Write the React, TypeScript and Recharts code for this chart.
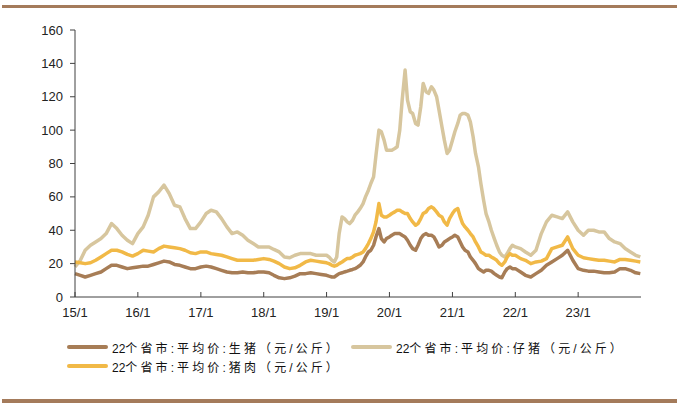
import { CartesianGrid, Line, LineChart, XAxis, YAxis } from 'recharts'

// monthly to 2018, half-monthly 2019-2021, monthly again 2022-2023
const dates = [
  '2015-01-01', '2015-02-01', '2015-03-01', '2015-04-01', '2015-05-01', '2015-06-01',
  '2015-07-01', '2015-08-01', '2015-09-01', '2015-10-01', '2015-11-01', '2015-12-01',
  '2016-01-01', '2016-02-01', '2016-03-01', '2016-04-01', '2016-05-01', '2016-06-01',
  '2016-07-01', '2016-08-01', '2016-09-01', '2016-10-01', '2016-11-01', '2016-12-01',
  '2017-01-01', '2017-02-01', '2017-03-01', '2017-04-01', '2017-05-01', '2017-06-01',
  '2017-07-01', '2017-08-01', '2017-09-01', '2017-10-01', '2017-11-01', '2017-12-01',
  '2018-01-01', '2018-02-01', '2018-03-01', '2018-04-01', '2018-05-01', '2018-06-01',
  '2018-07-01', '2018-08-01', '2018-09-01', '2018-10-01', '2018-11-01', '2018-12-01',
  '2019-01-01', '2019-01-15', '2019-02-01', '2019-02-15', '2019-03-01', '2019-03-15',
  '2019-04-01', '2019-04-15', '2019-05-01', '2019-05-15', '2019-06-01', '2019-06-15',
  '2019-07-01', '2019-07-15', '2019-08-01', '2019-08-15', '2019-09-01', '2019-09-15',
  '2019-10-01', '2019-10-15', '2019-11-01', '2019-11-15', '2019-12-01', '2019-12-15',
  '2020-01-01', '2020-01-15', '2020-02-01', '2020-02-15', '2020-03-01', '2020-03-15',
  '2020-04-01', '2020-04-15', '2020-05-01', '2020-05-15', '2020-06-01', '2020-06-15',
  '2020-07-01', '2020-07-15', '2020-08-01', '2020-08-15', '2020-09-01', '2020-09-15',
  '2020-10-01', '2020-10-15', '2020-11-01', '2020-11-15', '2020-12-01', '2020-12-15',
  '2021-01-01', '2021-01-15', '2021-02-01', '2021-02-15', '2021-03-01', '2021-03-15',
  '2021-04-01', '2021-04-15', '2021-05-01', '2021-05-15', '2021-06-01', '2021-06-15',
  '2021-07-01', '2021-07-15', '2021-08-01', '2021-08-15', '2021-09-01', '2021-09-15',
  '2021-10-01', '2021-10-15', '2021-11-01', '2021-11-15', '2021-12-01', '2021-12-15',
  '2022-01-01', '2022-02-01', '2022-03-01', '2022-04-01', '2022-05-01', '2022-06-01',
  '2022-07-01', '2022-08-01', '2022-09-01', '2022-10-01', '2022-11-01', '2022-12-01',
  '2023-01-01', '2023-02-01', '2023-03-01', '2023-04-01', '2023-05-01', '2023-06-01',
  '2023-07-01', '2023-08-01', '2023-09-01', '2023-10-01', '2023-11-01', '2023-12-01',
  '2023-12-28',
]

// 生猪
const hog = [
  14, 13, 12, 13, 14, 15, 17, 19, 19, 18, 17, 17.5,
  18, 18.5, 18.5, 19.5, 20.5, 21.5, 21, 19.5, 19, 18, 17, 17,
  18, 18.5, 18, 17, 16, 15, 14.5, 14.5, 15, 14.5, 14.5, 15,
  15, 14.5, 13, 11.5, 11, 11.5, 12.5, 14, 14, 14.5, 14, 13.5,
  13, 12.5, 12, 12, 13, 14, 14.5, 15, 15.5, 16, 16.5, 17,
  18, 19, 21, 24, 27, 28, 31, 36, 41, 35, 33, 35,
  36, 37, 38, 38, 38, 37, 36, 34, 31, 29, 28, 31,
  35, 37, 38, 37, 37, 36, 33, 30, 31, 33, 34, 35,
  36, 37, 36, 33, 30, 28, 27, 24, 22, 20, 17, 16,
  15, 16, 16, 15.5, 14, 13, 12, 11.5, 15, 17, 18, 17,
  17, 15, 13, 12, 14, 16, 19, 21, 23, 25, 28, 22,
  17, 16, 15.5, 15.5, 15, 14.5, 14.5, 15, 17, 17, 16, 14.5,
  14,
]

// 仔猪
const piglet = [
  18, 22, 28, 31, 33, 35, 38, 44, 41, 37, 34, 32,
  38, 42, 49, 60, 63, 67, 62, 55, 54, 47, 41, 41,
  45, 50, 52, 51, 47, 42, 38, 39, 37, 34, 32, 30,
  30, 30, 28.5, 27, 24, 23.5, 25, 26, 26, 26, 25, 25,
  25, 24, 22, 21, 24, 38, 48, 47, 45, 44, 46, 49,
  51, 53, 56, 60, 64, 68, 72, 85, 100, 99, 94, 88,
  88, 88, 89, 90, 100, 118, 136, 118, 111, 110, 104, 103,
  114, 128, 123, 122, 126, 124, 120, 112, 102, 94, 86, 88,
  94, 99, 104, 109, 110, 110, 109, 105, 96, 86, 78, 68,
  58, 50, 45, 40, 35, 31, 27, 25, 24, 26, 29, 31,
  30, 29, 27, 25, 28, 38, 45, 49, 48, 47, 51, 45,
  40, 37, 40, 40, 39, 39, 35, 33, 32, 29, 27, 25,
  24,
]

// 猪肉
const pork = [
  21, 20.5, 20, 20.5, 22, 24, 26, 28, 28, 27, 25.5, 24.5,
  26, 28, 27.5, 27, 29, 30.5, 30, 29.5, 29, 28, 26.5, 26,
  27, 27, 26, 25.5, 25, 24, 23, 22, 22, 22, 22, 22.5,
  23, 22.5, 21.5, 20, 18, 17, 17.5, 19, 21, 22, 21.5, 21,
  20.5, 20, 19, 18.5, 19, 20, 21, 22, 23, 23, 24, 25,
  25.5, 26, 27, 29, 32, 35, 39, 45, 56, 49, 48, 48,
  49, 50, 51, 52, 52, 51, 50, 50, 47, 45, 43, 44,
  47, 50, 51, 53, 54, 53, 51, 49, 48, 45, 43, 47,
  50, 52, 53, 48, 44, 42, 40, 38, 36, 33, 30, 27,
  26, 25, 25, 24, 23, 22, 20, 19, 21, 24, 26, 25,
  25, 23, 22, 20, 21, 21.5, 23, 29, 30, 31, 36, 29,
  25, 23.5, 23, 22.5, 22, 22, 21.5, 21, 22.5, 22.5, 22, 21.5,
  21,
]

const yearStarts = [
  '2015-01-01', '2016-01-01', '2017-01-01', '2018-01-01', '2019-01-01',
  '2020-01-01', '2021-01-01', '2022-01-01', '2023-01-01',
]
const yearLabels = ['15/1', '16/1', '17/1', '18/1', '19/1', '20/1', '21/1', '22/1', '23/1']
const yTicks = [0, 20, 40, 60, 80, 100, 120, 140, 160]

const series = [
  { key: 'hog', name: '22个省市:平均价:生猪（元/公斤）', color: '#A77D56' },
  { key: 'piglet', name: '22个省市:平均价:仔猪（元/公斤）', color: '#D7C69E' },
  { key: 'pork', name: '22个省市:平均价:猪肉（元/公斤）', color: '#F1B947' },
]

const rows = dates.map((d, i) => ({
  t: Date.parse(d),
  hog: hog[i],
  piglet: piglet[i],
  pork: pork[i],
}))

const tickTimes = yearStarts.map((d) => Date.parse(d))
const labelOf = (v: number) => yearLabels[tickTimes.indexOf(v)] ?? ''

const font = '"Liberation Sans", Arial, "Noto Sans CJK SC", sans-serif'
const tickStyle = { fontSize: 13, fill: '#222', fontFamily: font }

function LegendItem({ x, y, color, text }: { x: number; y: number; color: string; text: string }) {
  // the leading "22" sits tight, the chinese part is spaced out
  const lead = text.slice(0, 2)
  const rest = text.slice(2)
  return (
    <div style={{ position: 'absolute', left: x, top: y - 9, height: 18, display: 'flex', alignItems: 'center' }}>
      <div style={{ width: 41, height: 4, background: color, borderRadius: 2 }} />
      <span style={{ marginLeft: 4, fontSize: 12, color: '#111', fontFamily: font, whiteSpace: 'nowrap' }}>
        {lead}
        <span style={{ letterSpacing: 3.1 }}>{rest}</span>
      </span>
    </div>
  )
}

export default function App() {
  return (
    <div style={{ position: 'absolute', left: 0, top: 0, width: 677, height: 403, background: '#fff', overflow: 'hidden' }}>
      <div style={{ position: 'absolute', left: 2, top: 5, width: 675, height: 3, background: '#A47B5B' }} />
      <LineChart width={677} height={403} data={rows} margin={{ top: 30, right: 36, bottom: 76, left: 0 }}>
        <CartesianGrid stroke="none" />
        <XAxis
          dataKey="t"
          type="number"
          scale="linear"
          domain={[Date.parse('2015-01-01'), Date.parse('2024-01-01')]}
          ticks={tickTimes}
          tickFormatter={labelOf}
          height={30}
          tickSize={-5}
          tickMargin={16}
          stroke="#404040"
          tick={tickStyle}
          interval={0}
        />
        <YAxis
          domain={[0, 160]}
          ticks={yTicks}
          width={75}
          tickSize={5}
          tickMargin={7}
          stroke="#404040"
          tick={tickStyle}
          interval={0}
        />
        {series.map((s) => (
          <Line
            key={s.key}
            type="linear"
            dataKey={s.key}
            name={s.name}
            stroke={s.color}
            strokeWidth={3.5}
            strokeLinejoin="round"
            dot={false}
            activeDot={false}
            isAnimationActive={false}
          />
        ))}
      </LineChart>
      <LegendItem x={67} y={347} color={series[0].color} text={series[0].name} />
      <LegendItem x={351} y={347} color={series[1].color} text={series[1].name} />
      <LegendItem x={67} y={366} color={series[2].color} text={series[2].name} />
      <div style={{ position: 'absolute', left: 2, top: 399, width: 675, height: 4, background: '#A47B5B' }} />
    </div>
  )
}
